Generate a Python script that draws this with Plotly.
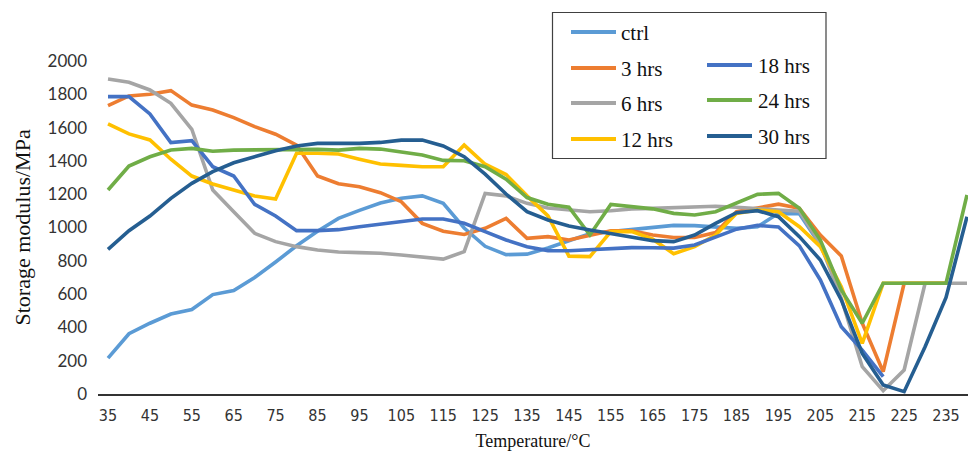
import plotly.graph_objects as go

# Temperature sweep (°C), one reading every 5 degrees
temperature = list(range(35, 245, 5))

# Storage modulus (MPa) for each treatment time
ctrl = [215, 362, 425, 480, 507, 597, 622, 700, 793, 890, 978, 1055, 1103, 1147, 1176, 1190,
        1145, 997, 887, 837, 840, 877, 920, 963, 975, 988, 1000, 1013, 1011, 1005, 995, 1005,
        1085, 1083, 895, 625, None, None, None, None, None, None]
hrs_3 = [1732, 1790, 1800, 1822, 1735, 1706, 1660, 1606, 1560, 1495, 1309, 1263, 1245, 1209, 1155, 1025,
         978, 958, 995, 1055, 935, 945, 925, 955, 980, 980, 955, 940, 940, 970, 1095, 1117,
         1140, 1115, 955, 829, 425, 134, 665, 665, 665, None]
hrs_6 = [1892, 1872, 1826, 1746, 1590, 1225, 1095, 965, 915, 885, 865, 853, 849, 845, 835, 825,
         810, 855, 1205, 1190, 1145, 1117, 1105, 1095, 1101, 1112, 1115, 1120, 1122, 1128, 1122, 1112,
         1105, 1098, 900, 575, 164, 20, 144, 665, 665, 665]
hrs_12 = [1622, 1562, 1526, 1410, 1309, 1261, 1225, 1189, 1171, 1446, 1446, 1441, 1410, 1381, 1373, 1365,
          1365, 1495, 1380, 1318, 1190, 1070, 828, 825, 975, 975, 930, 842, 885, 955, 1085, 1105,
          1095, 1005, 885, 645, 304, 665, 665, 665, 665, None]
hrs_18 = [1786, 1786, 1682, 1510, 1522, 1365, 1309, 1139, 1069, 981, 981, 987, 1005, 1021, 1035, 1051,
          1051, 1025, 975, 925, 885, 861, 860, 866, 874, 879, 878, 876, 895, 940, 990, 1013,
          1003, 890, 685, 404, 264, 104, None, None, None, None]
hrs_24 = [1225, 1369, 1425, 1465, 1475, 1458, 1465, 1467, 1467, 1469, 1469, 1465, 1475, 1471, 1455, 1435,
          1403, 1401, 1365, 1290, 1180, 1140, 1122, 955, 1138, 1127, 1112, 1085, 1075, 1095, 1145, 1199,
          1205, 1115, 925, 625, 425, 665, 665, 665, 665, 1195]
hrs_30 = [869, 981, 1069, 1175, 1265, 1335, 1389, 1425, 1461, 1490, 1505, 1505, 1505, 1511, 1525, 1525,
          1490, 1425, 1320, 1201, 1095, 1045, 1009, 985, 965, 945, 921, 915, 955, 1025, 1089, 1101,
          1065, 945, 805, 565, 244, 54, 14, 284, 580, 1065]

series_names = ["ctrl", "3 hrs", "6 hrs", "12 hrs", "18 hrs", "24 hrs", "30 hrs"]
series_values = [ctrl, hrs_3, hrs_6, hrs_12, hrs_18, hrs_24, hrs_30]
series_colors = ["#5B9BD5", "#ED7D31", "#A5A5A5", "#FFC000", "#4472C4", "#70AD47", "#255E91"]

# Category labels shown on the temperature axis (every other reading)
tick_values = list(range(35, 240, 10))
tick_labels = [str(t) for t in tick_values]

W, H = 968, 455
M_L, M_R, M_T, M_B = 98, 0, 61, 61
PW, PH = W - M_L - M_R, H - M_T - M_B


def px_x(px):
    return (px - M_L) / PW


def px_y(py):
    return (H - M_B - py) / PH


fig = go.Figure()
for name, vals, color in zip(series_names, series_values, series_colors):
    fig.add_trace(go.Scatter(
        x=temperature, y=vals, name=name, mode="lines",
        line=dict(color=color, width=3.6, shape="linear"),
        connectgaps=False, showlegend=False,
    ))

# Boxed two-column key
legend_layout = {
    "ctrl": (0, 32), "3 hrs": (0, 68), "6 hrs": (0, 103), "12 hrs": (0, 139),
    "18 hrs": (1, 65), "24 hrs": (1, 100), "30 hrs": (1, 136),
}
col_x = [(571, 616, 619), (707, 752, 756)]
shapes = [dict(type="rect", xref="paper", yref="paper",
               x0=px_x(552.5), x1=px_x(826), y0=px_y(158.5), y1=px_y(12.5),
               line=dict(color="#404040", width=1.2), fillcolor="white", layer="above")]
annotations = []
for name, color in zip(series_names, series_colors):
    col, ypx = legend_layout[name]
    x0, x1, xt = col_x[col]
    shapes.append(dict(type="line", xref="paper", yref="paper",
                       x0=px_x(x0), x1=px_x(x1), y0=px_y(ypx), y1=px_y(ypx),
                       line=dict(color=color, width=4), layer="above"))
    annotations.append(dict(text=name, xref="paper", yref="paper",
                            x=px_x(xt), y=px_y(ypx + 1), xanchor="left", yanchor="middle",
                            showarrow=False,
                            font=dict(family="Liberation Serif, Times New Roman, serif",
                                      size=21, color="#111111")))

annotations.append(dict(text="Storage modulus/MPa", xref="paper", yref="paper",
                        x=px_x(22), y=0.5, textangle=-90, showarrow=False,
                        xanchor="center", yanchor="middle",
                        font=dict(family="Liberation Serif, Times New Roman, serif",
                                  size=22, color="#111111")))

fig.update_layout(
    width=W, height=H,
    margin=dict(l=M_L, r=M_R, t=M_T, b=M_B, autoexpand=False),
    paper_bgcolor="white", plot_bgcolor="white",
    shapes=shapes, annotations=annotations, showlegend=False,
)
fig.update_xaxes(
    range=[32.61, 240.24], showgrid=False, zeroline=False,
    showline=True, linecolor="#333333", linewidth=1.6,
    tickmode="array", tickvals=tick_values, ticktext=tick_labels,
    ticks="", ticklabelstandoff=6,
    tickfont=dict(family="Liberation Sans Narrow, DejaVu Sans Condensed, Lato, sans-serif",
                  size=16, color="#333333"),
    title=dict(text="Temperature/°C", standoff=10,
               font=dict(family="Liberation Serif, Times New Roman, serif",
                         size=18, color="#111111")),
)
fig.update_yaxes(
    range=[0, 2000], showgrid=False, zeroline=False, showline=False,
    tickmode="linear", tick0=0, dtick=200, ticks="", ticklabelstandoff=10,
    tickfont=dict(family="Lato, Open Sans, sans-serif", size=17, color="#333333"),
)

fig.write_html("out.html")
